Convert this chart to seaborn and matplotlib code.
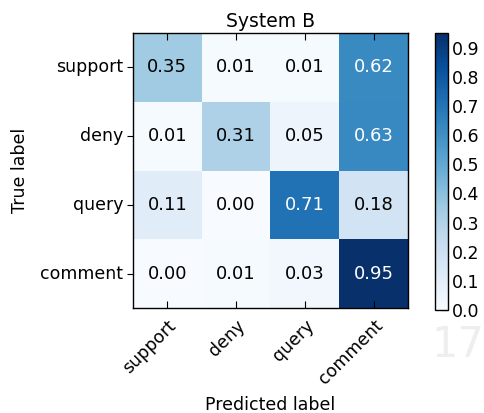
import numpy as np
import pandas as pd
import matplotlib
matplotlib.use("Agg")
import matplotlib.pyplot as plt
import seaborn as sns

# Confusion matrix values (row = true label, column = predicted label)
labels = ["support", "deny", "query", "comment"]
row_support = [0.35, 0.01, 0.01, 0.62]
row_deny = [0.01, 0.31, 0.05, 0.63]
row_query = [0.11, 0.00, 0.71, 0.18]
row_comment = [0.00, 0.01, 0.03, 0.95]
cbar_ticks = [0.0, 0.1, 0.2, 0.3, 0.4, 0.5, 0.6, 0.7, 0.8, 0.9]

cm = pd.DataFrame([row_support, row_deny, row_query, row_comment],
                  index=labels, columns=labels)

sns.set_style("white")
plt.rcParams['font.family'] = ['DejaVu Sans']
plt.rcParams['text.color'] = 'black'
plt.rcParams['axes.labelcolor'] = 'black'
plt.rcParams['xtick.color'] = 'black'
plt.rcParams['ytick.color'] = 'black'

fig = plt.figure(figsize=(4.85, 4.13), dpi=100)
ax = fig.add_axes([0.274, 0.254, 0.567, 0.666])
cax = fig.add_axes([0.897, 0.249, 0.026, 0.671])

sns.heatmap(cm, ax=ax, cbar_ax=cax, cmap="Blues", vmin=0, vmax=cm.values.max(),
            annot=False, square=False, linewidths=0)
ax.set_axisbelow(False)

# annotations: white on dark cells, black otherwise (threshold = max / 2)
thresh = cm.values.max() / 2.0
for i in range(cm.shape[0]):
    for j in range(cm.shape[1]):
        v = cm.values[i, j]
        ax.text(j + 0.5, i + 0.5, "{:.2f}".format(v), ha="center", va="center",
                fontsize=13, color="white" if v > thresh else "black")

for s in ax.spines.values():
    s.set_visible(True)
    s.set_color("black")
    s.set_linewidth(1.0)

ax.set_title("System B", fontsize=13.5, pad=4, color="black")
ax.set_xlabel("Predicted label", fontsize=12.5, labelpad=6)
ax.set_ylabel("True label", fontsize=12.5, labelpad=8)
ax.set_xticklabels(labels, rotation=45, ha="right", rotation_mode="anchor", fontsize=12.5)
ax.set_yticklabels(labels, rotation=0, fontsize=12.5)
ax.tick_params(axis="x", direction="in", length=5, width=0.8,
               top=True, bottom=True, pad=6)
ax.tick_params(axis="y", which="major", direction="out", length=4, width=0.8,
               left=True, right=False, pad=3)
# right side ticks point inward
ax2 = ax.secondary_yaxis("right")
ax2.set_yticks(ax.get_yticks())
ax2.tick_params(direction="in", length=5, width=0.8, labelright=False)
ax2.spines["right"].set_visible(False)

cbar = ax.collections[0].colorbar
cbar.set_ticks(cbar_ticks)
cbar.set_ticklabels(["{:.1f}".format(t) for t in cbar_ticks])
cbar.outline.set_visible(True)
cbar.outline.set_edgecolor("black")
cbar.outline.set_linewidth(1.0)
cax.tick_params(direction="in", length=5, width=0.8, labelsize=12.5, pad=3)

# faint page number in the corner of the source page
fig.text(0.998, 0.115, "17", fontsize=30, color="#eeeeee", ha="right", va="bottom")

fig.savefig("out.png", dpi=100)
